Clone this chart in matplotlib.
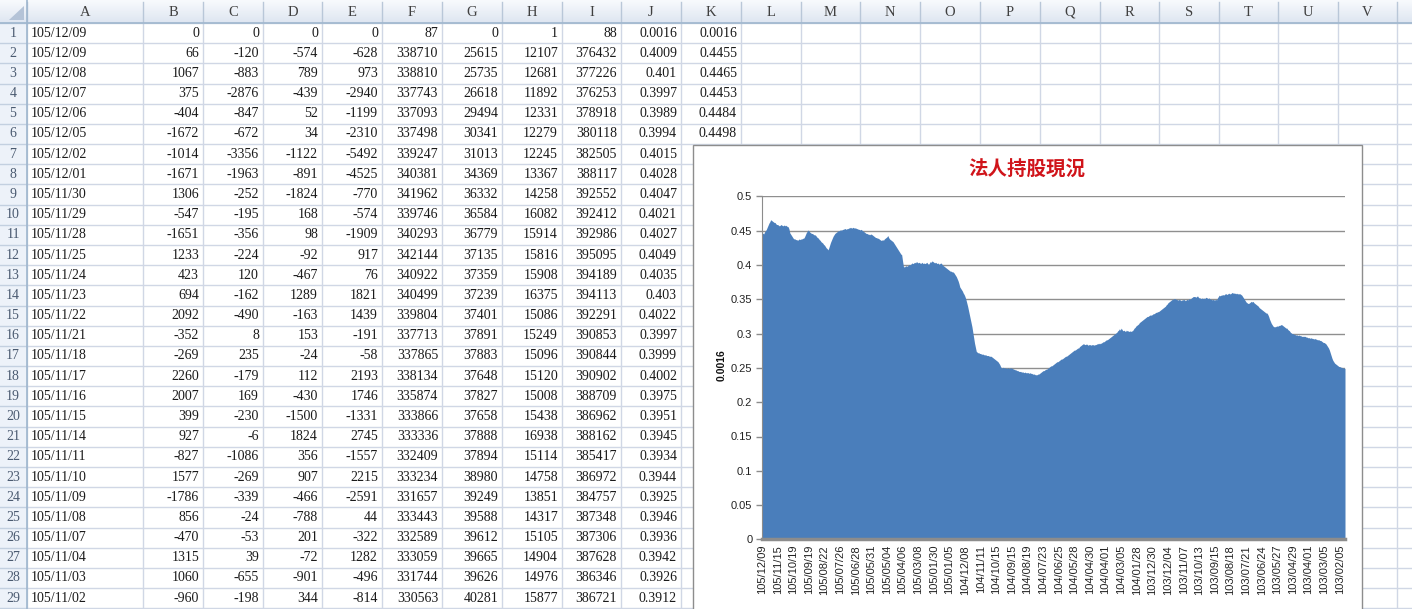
import numpy as np
import matplotlib
matplotlib.use("Agg")
import matplotlib.pyplot as plt
from matplotlib.patches import Rectangle, Polygon
from matplotlib.colors import LinearSegmentedColormap

# ------------------------------------------------------------------ data
col_letters = ["A", "B", "C", "D", "E", "F", "G", "H", "I", "J", "K",
               "L", "M", "N", "O", "P", "Q", "R", "S", "T", "U", "V"]
row_numbers = list(range(1, 30))
dates = ["105/12/09", "105/12/09", "105/12/08", "105/12/07", "105/12/06", "105/12/05",
         "105/12/02", "105/12/01", "105/11/30", "105/11/29", "105/11/28", "105/11/25",
         "105/11/24", "105/11/23", "105/11/22", "105/11/21", "105/11/18", "105/11/17",
         "105/11/16", "105/11/15", "105/11/14", "105/11/11", "105/11/10", "105/11/09",
         "105/11/08", "105/11/07", "105/11/04", "105/11/03", "105/11/02"]
col_b = [0, 66, 1067, 375, -404, -1672, -1014, -1671, 1306, -547, -1651, 1233, 423, 694,
         2092, -352, -269, 2260, 2007, 399, 927, -827, 1577, -1786, 856, -470, 1315, 1060, -960]
col_c = [0, -120, -883, -2876, -847, -672, -3356, -1963, -252, -195, -356, -224, 120, -162,
         -490, 8, 235, -179, 169, -230, -6, -1086, -269, -339, -24, -53, 39, -655, -198]
col_d = [0, -574, 789, -439, 52, 34, -1122, -891, -1824, 168, 98, -92, -467, 1289,
         -163, 153, -24, 112, -430, -1500, 1824, 356, 907, -466, -788, 201, -72, -901, 344]
col_e = [0, -628, 973, -2940, -1199, -2310, -5492, -4525, -770, -574, -1909, 917, 76, 1821,
         1439, -191, -58, 2193, 1746, -1331, 2745, -1557, 2215, -2591, 44, -322, 1282, -496, -814]
col_f = [87, 338710, 338810, 337743, 337093, 337498, 339247, 340381, 341962, 339746, 340293,
         342144, 340922, 340499, 339804, 337713, 337865, 338134, 335874, 333866, 333336,
         332409, 333234, 331657, 333443, 332589, 333059, 331744, 330563]
col_g = [0, 25615, 25735, 26618, 29494, 30341, 31013, 34369, 36332, 36584, 36779, 37135,
         37359, 37239, 37401, 37891, 37883, 37648, 37827, 37658, 37888, 37894, 38980, 39249,
         39588, 39612, 39665, 39626, 40281]
col_h = [1, 12107, 12681, 11892, 12331, 12279, 12245, 13367, 14258, 16082, 15914, 15816,
         15908, 16375, 15086, 15249, 15096, 15120, 15008, 15438, 16938, 15114, 14758, 13851,
         14317, 15105, 14904, 14976, 15877]
col_i = [88, 376432, 377226, 376253, 378918, 380118, 382505, 388117, 392552, 392412, 392986,
         395095, 394189, 394113, 392291, 390853, 390844, 390902, 388709, 386962, 388162,
         385417, 386972, 384757, 387348, 387306, 387628, 386346, 386721]
col_j = [0.0016, 0.4009, 0.401, 0.3997, 0.3989, 0.3994, 0.4015, 0.4028, 0.4047, 0.4021,
         0.4027, 0.4049, 0.4035, 0.403, 0.4022, 0.3997, 0.3999, 0.4002, 0.3975, 0.3951,
         0.3945, 0.3934, 0.3944, 0.3925, 0.3946, 0.3936, 0.3942, 0.3926, 0.3912]
k_series_name = 0.0016
# column K (chart series), one value per trading day, newest first
share_ratio = [
    .4455, .4465, .4453, .4484, .4498, .452, .455, .458, .461, .463, .466, .465, .464, .463, .462, .462, .460, .459,
    .459, .458, .457, .458, .459, .458, .457, .458, .458, .457, .458, .456, .456, .453, .447, .445, .443, .441,
    .439, .438, .438, .437, .437, .436, .437, .438, .437, .438, .438, .439, .439, .441, .444, .447, .449, .451,
    .450, .448, .447, .446, .446, .445, .444, .444, .443, .441, .440, .439, .437, .436, .434, .433, .432, .430,
    .429, .427, .425, .424, .422, .425, .429, .433, .436, .439, .442, .444, .446, .447, .448, .449, .450, .450,
    .451, .451, .451, .452, .452, .453, .453, .452, .453, .453, .454, .454, .455, .454, .454, .455, .454, .454,
    .454, .453, .453, .452, .452, .451, .452, .451, .450, .449, .448, .447, .446, .446, .445, .445, .444, .445,
    .445, .444, .443, .442, .441, .440, .440, .439, .439, .438, .437, .436, .436, .437, .436, .438, .439, .440,
    .441, .443, .440, .438, .437, .436, .435, .434, .432, .430, .428, .426, .424, .422, .420, .418, .416, .415,
    .406, .398, .397, .398, .399, .398, .399, .400, .401, .400, .402, .403, .402, .403, .404, .403, .405, .404,
    .403, .404, .403, .402, .404, .403, .402, .403, .402, .403, .404, .402, .401, .403, .405, .404, .406, .405,
    .404, .403, .404, .403, .402, .403, .401, .402, .403, .402, .400, .399, .398, .397, .396, .395, .394, .393,
    .392, .391, .391, .390, .390, .389, .387, .385, .383, .380, .377, .373, .368, .366, .364, .362, .359, .357,
    .354, .350, .345, .340, .334, .328, .322, .316, .310, .302, .294, .286, .280, .274, .273, .272, .272, .271,
    .271, .270, .270, .270, .269, .269, .269, .268, .268, .268, .267, .267, .267, .266, .265, .264, .263, .262,
    .261, .260, .259, .257, .255, .252, .250, .250, .251, .250, .250, .250, .249, .250, .250, .249, .250, .250,
    .2495, .249, .248, .248, .247, .247, .246, .246, .245, .2447, .245, .244, .244, .244, .243, .244, .243, .243,
    .243, .243, .242, .243, .242, .242, .241, .241, .241, .240, .240, .240, .241, .241, .242, .243, .244, .245,
    .246, .246, .247, .248, .248, .249, .250, .251, .252, .253, .253, .254, .255, .256, .257, .258, .259, .259,
    .260, .261, .262, .263, .263, .264, .265, .266, .267, .267, .268, .269, .270, .271, .272, .273, .274, .275,
    .276, .276, .277, .278, .279, .279, .281, .282, .283, .284, .285, .285, .284, .284, .285, .284, .283, .284,
    .284, .283, .284, .2835, .284, .283, .284, .284, .285, .285, .286, .285, .286, .286, .287, .288, .288, .289,
    .290, .291, .291, .292, .293, .294, .295, .296, .297, .298, .299, .300, .301, .302, .304, .305, .307, .305,
    .308, .306, .304, .305, .304, .303, .305, .304, .304, .303, .304, .303, .304, .304, .306, .308, .309, .311,
    .312, .313, .314, .316, .317, .318, .319, .320, .321, .322, .323, .324, .325, .325, .326, .327, .327, .327,
    .328, .329, .329, .330, .331, .331, .332, .332, .333, .334, .335, .336, .337, .338, .339, .340, .342, .343,
    .345, .346, .347, .348, .349, .350, .350, .351, .351, .350, .350, .349, .349, .350, .349, .348, .349, .349,
    .350, .349, .348, .349, .350, .349, .351, .350, .351, .352, .353, .354, .354, .354, .353, .354, .355, .353,
    .352, .352, .351, .352, .351, .352, .351, .352, .353, .352, .351, .352, .351, .350, .350, .349, .350, .349,
    .349, .350, .349, .352, .354, .356, .355, .356, .356, .357, .356, .357, .358, .358, .357, .358, .359, .358,
    .358, .359, .360, .359, .359, .359, .358, .359, .358, .358, .358, .358, .357, .356, .354, .352, .350, .348,
    .346, .345, .344, .344, .345, .346, .347, .346, .347, .345, .344, .343, .342, .341, .340, .338, .337, .336,
    .335, .334, .333, .332, .331, .330, .330, .328, .325, .321, .318, .315, .313, .311, .310, .310, .310, .311,
    .311, .311, .312, .312, .313, .313, .312, .311, .310, .309, .308, .308, .306, .305, .304, .302, .301, .300,
    .300, .299, .299, .298, .298, .298, .297, .298, .297, .297, .296, .296, .296, .296, .296, .295, .295, .294,
    .294, .294, .293, .294, .293, .293, .292, .293, .292, .292, .291, .291, .291, .290, .290, .289, .288, .287,
    .287, .286, .285, .283, .281, .279, .276, .272, .268, .264, .261, .259, .257, .256, .255, .254, .253, .252,
    .252, .251, .251, .250, .250, .2495, .2495,
]
x_tick_labels = ["105/12/09", "105/11/15", "105/10/19", "105/09/19", "105/08/22", "105/07/26",
                 "105/06/28", "105/05/31", "105/05/04", "105/04/06", "105/03/08", "105/01/30",
                 "105/01/05", "104/12/08", "104/11/11", "104/10/15", "104/09/15", "104/08/19",
                 "104/07/23", "104/06/25", "104/05/28", "104/04/30", "104/04/01", "104/03/05",
                 "104/01/28", "103/12/30", "103/12/04", "103/11/07", "103/10/13", "103/09/15",
                 "103/08/18", "103/07/21", "103/06/24", "103/05/27", "103/04/29", "103/04/01",
                 "103/03/05", "103/02/05"]
label_step = 18
chart_title = "法人持股現況"

# ------------------------------------------------------------------ layout
W, H, DPI = 1412, 609, 100
HEAD_H = 23.0
ROW_H = 20.18
ROWHDR_W = 27
col_edges = [27, 143, 203, 263, 322, 382, 442, 502, 562, 621, 681, 741, 801, 860,
             920, 980, 1040, 1100, 1159, 1219, 1278, 1338, 1397, 1457]
CH_L, CH_T, CH_R = 693, 145, 1362          # embedded chart frame
SERIF = ["Liberation Serif", "DejaVu Serif"]
SANS = ["Liberation Sans", "DejaVu Sans"]
CJK = ["Noto Sans CJK TC", "DejaVu Sans"]

fig = plt.figure(figsize=(W / DPI, H / DPI), dpi=DPI)
fig.patch.set_facecolor("white")
sheet = fig.add_axes([0, 0, 1, 1])
sheet.axis("off")

# header band (gradient)
hdr_cmap = LinearSegmentedColormap.from_list("hdr", ["#F8FAFD", "#DEE6F1"])
sheet.imshow(np.linspace(0, 1, 32).reshape(-1, 1), cmap=hdr_cmap, aspect="auto",
             extent=[0, W, HEAD_H, 0], origin="upper", zorder=0)
# row header band
sheet.add_patch(Rectangle((0, HEAD_H), ROWHDR_W, H - HEAD_H, fc="#EDF2F9", ec="none", zorder=0))

# cell grid
for e in col_edges:
    sheet.plot([e, e], [HEAD_H, H], color="#D0D7E5", lw=1, zorder=1)
    sheet.plot([e, e], [2, HEAD_H], color="#B9C7D8", lw=1, zorder=1)
for r in range(31):
    y = HEAD_H + r * ROW_H
    sheet.plot([ROWHDR_W, W], [y, y], color="#D0D7E5", lw=1, zorder=1)
    sheet.plot([0, ROWHDR_W], [y, y], color="#C3D0E0", lw=1, zorder=1)
sheet.plot([0, W], [HEAD_H, HEAD_H], color="#9EB6CE", lw=1.2, zorder=2)
sheet.plot([ROWHDR_W, ROWHDR_W], [0, H], color="#9EB6CE", lw=1.2, zorder=2)
sheet.add_patch(Polygon([[9, 20], [24, 20], [24, 6]], closed=True, fc="#B4C3D7", ec="none", zorder=2))

# column letters
for k, letter in enumerate(col_letters):
    cx = (col_edges[k] + col_edges[k + 1]) / 2
    sheet.text(cx, 12.5, letter, ha="center", va="center", fontsize=10.5,
               family=SERIF, color="#404040", zorder=3)

# row numbers and cell values
num_cols = [col_b, col_c, col_d, col_e, col_f, col_g, col_h, col_i]
for r, rn in enumerate(row_numbers):
    cy = HEAD_H + (r + 0.5) * ROW_H
    sheet.text(13, cy, str(rn), ha="center", va="center", fontsize=10,
               family=SERIF, color="#4A5A70", zorder=3)
    sheet.text(col_edges[0] + 4, cy, dates[r], ha="left", va="center", fontsize=10,
               family=SERIF, color="#1A1A1A", zorder=3)
    for c, col in enumerate(num_cols):
        sheet.text(col_edges[c + 2] - 4, cy, str(col[r]), ha="right", va="center",
                   fontsize=10, family=SERIF, color="#1A1A1A", zorder=3)
    sheet.text(col_edges[10] - 4, cy, f"{col_j[r]:g}", ha="right", va="center",
               fontsize=10, family=SERIF, color="#1A1A1A", zorder=3)
    if cy < CH_T:   # rows of column K that are not hidden by the chart
        kval = k_series_name if r == 0 else share_ratio[r - 1]
        sheet.text(col_edges[11] - 4, cy, f"{kval:g}", ha="right", va="center",
                   fontsize=10, family=SERIF, color="#1A1A1A", zorder=3)

# chart frame (covers cells)
sheet.add_patch(Rectangle((CH_L, CH_T), CH_R - CH_L, H - CH_T + 20, fc="white",
                          ec="#8D8D8D", lw=1, zorder=5))
sheet.text(1027, 170, chart_title, ha="center", va="center", fontsize=14,
           fontweight="bold", family=CJK, color="#D0141A", zorder=6)
sheet.text(722, 365, f"{k_series_name:g}", ha="center", va="center", rotation=90,
           fontsize=7.5, fontweight="bold", family=SANS, color="#111111", zorder=6)

sheet.set_xlim(0, W)
sheet.set_ylim(H, 0)

# plot area
PL, PR, PT, PB = 762, 1345, 196.4, 539.4
ax = fig.add_axes([PL / W, (H - PB) / H, (PR - PL) / W, (PB - PT) / H])
ax.set_facecolor("white")
n = len(share_ratio)
xs = np.arange(n)
ax.fill_between(xs, 0, share_ratio, color="#4A7EBB", lw=0, zorder=2)
ax.set_xlim(0, n - 1)
ax.set_ylim(0, 0.5)
yt = np.round(np.arange(0, 0.501, 0.05), 2)
ax.set_yticks(yt)
ax.set_yticklabels([f"{t:g}" for t in yt], fontsize=8, family=SANS, color="#222222")
ax.yaxis.grid(True, color="#8F8F8F", lw=1)
ax.set_axisbelow(True)
ax.tick_params(axis="y", direction="out", length=4, width=1, color="#8C8C8C", pad=3)
tick_pos = [i * label_step for i in range(len(x_tick_labels))]
ax.set_xticks(tick_pos)
ax.set_xticklabels(x_tick_labels, rotation=90, fontsize=8, family=SANS, color="#222222")
ax.tick_params(axis="x", length=0, pad=4)
for s in ("top", "right"):
    ax.spines[s].set_visible(False)
ax.spines["left"].set_color("#8C8C8C")
ax.spines["bottom"].set_color("#8C8C8C")
ax.spines["bottom"].set_linewidth(2.5)
ax.spines["bottom"].set_zorder(3)

fig.savefig("out.png", dpi=DPI)
